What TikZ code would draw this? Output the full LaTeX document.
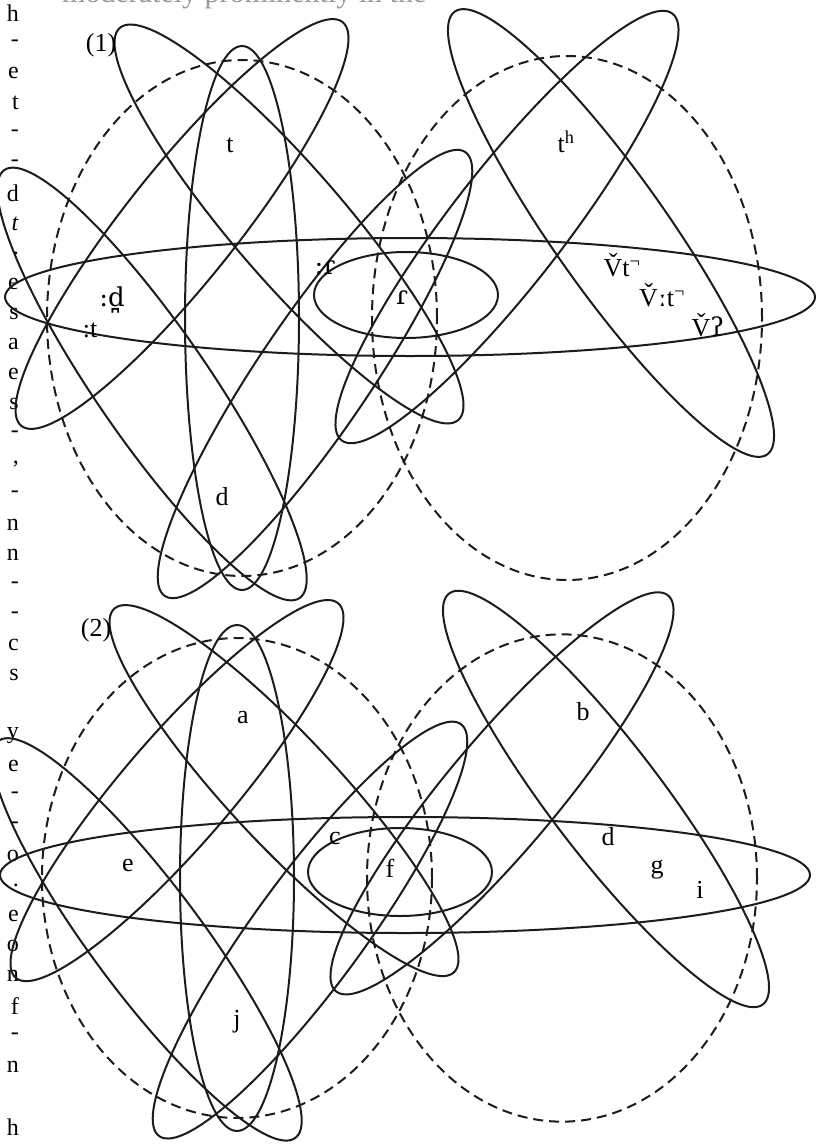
\documentclass[tikz,border=0pt]{standalone}
\usepackage{fontspec}
\setmainfont{Liberation Serif}
\newfontfamily\ipafont{DejaVu Serif}
\usetikzlibrary{positioning}
\definecolor{ink}{HTML}{1C1C1C}
\definecolor{faint}{HTML}{9A9A9A}
\definecolor{paper}{HTML}{FFFFFF}

\tikzset{
  loopline/.style={ink,line width=2pt},
  ringline/.style={ink,line width=2pt,dash pattern=on 10pt off 6pt},
  lab/.style={font=\fontsize{26}{30}\selectfont,inner sep=0pt},
  margintext/.style={font=\fontsize{24}{28}\selectfont,inner sep=0pt,anchor=east},
}

% 两个虚线圈和斜向、竖向的实线椭圆，两幅图共用
\newcommand{\ringpair}{%
  \draw[ringline] (242,318) ellipse [x radius=195pt,y radius=258pt];
  \draw[ringline] (567,318) ellipse [x radius=195pt,y radius=262pt];
  \draw[loopline] (242,318) ellipse [x radius=57pt,y radius=272pt];
  \draw[loopline,rotate around={-49.2:(289,224)}] (289,224) ellipse [x radius=259pt,y radius=56pt];
  \draw[loopline,rotate around={51.5:(182,224)}] (182,224) ellipse [x radius=258pt,y radius=56pt];
  \draw[loopline,rotate around={-55.4:(152,384)}] (152,384) ellipse [x radius=260pt,y radius=56pt];
  \draw[loopline,rotate around={55.9:(315,374)}] (315,374) ellipse [x radius=268pt,y radius=56pt];
  \draw[loopline,rotate around={-54.8:(611,233)}] (611,233) ellipse [x radius=271pt,y radius=57pt];
  \draw[loopline,rotate around={52.2:(507,227)}] (507,227) ellipse [x radius=270pt,y radius=57pt];
}

\begin{document}
\begin{tikzpicture}[x=1pt,y=-1pt]
\fill[paper] (0,0) rectangle (819,1148);
\useasboundingbox (0,0) rectangle (819,1148);

% 页顶被裁掉的一行，只露出字脚
\node[font=\fontsize{30}{34}\selectfont,faint,inner sep=0pt,anchor=base west] (topline) at (62,3)
  {moderately prominently in the};

% 左边一栏被裁掉的文字
\foreach \ch/\k in {h/0,-/1,e/2,t/3,-/4,-/5,d/6,\textit{t}/7,./8,e/9,s/10,a/11,e/12,s/13,-/14,{,}/15,-/16,n/17,n/18,-/19,-/20,c/21,s/22,y/24,e/25,-/26,-/27,o/28,./29,e/30,o/31,n/32,f/33,-/34,n/35,h/37}
  \node[margintext] (m\k) at (19,{13+30.1*\k}) {\ch};

% 图 (1)
\ringpair
\draw[loopline] (410,297) ellipse [x radius=405pt,y radius=59pt];
\draw[loopline] (406,295) ellipse [x radius=92pt,y radius=43pt];
\node[lab] (one) at (101,45) {(1)};
\node[lab] (t1) at (230,145) {t};
\node[lab] (d1) at (222,497) {d};
\node[lab] (th1) at (566,142) {t\textsuperscript{h}};
\node[lab] (dd1) at (112,300) {\ipafont :d̪};
\node[lab] (tt1) at (90,330) {:t};
\node[lab] (rr1) at (325,268) {\ipafont :ɾ};
\node[lab] (r1) at (402,298) {\ipafont ɾ};
\node[lab] (vt1) at (622,265) {\v{V}t\textsuperscript{¬}};
\node[lab] (vlt1) at (662,295) {\v{V}{\ipafont ː}t\textsuperscript{¬}};
\node[lab] (vq1) at (708,325) {\v{V}{\ipafont ʔ}};

% 图 (2)，下移并略压扁
\begin{scope}[shift={(-5,878)},yscale=0.93,shift={(0,-318)}]
\ringpair
\end{scope}
\draw[loopline] (405,875) ellipse [x radius=405pt,y radius=58pt];
\draw[loopline] (400,872) ellipse [x radius=92pt,y radius=44pt];
\node[lab] (two) at (96,630) {(2)};
\node[lab] (a2) at (243,718) {a};
\node[lab] (b2) at (583,712) {b};
\node[lab] (c2) at (335,838) {c};
\node[lab] (f2) at (390,868) {f};
\node[lab] (e2) at (128,865) {e};
\node[lab] (d2) at (608,837) {d};
\node[lab] (g2) at (657,870) {g};
\node[lab] (i2) at (700,890) {i};
\node[lab] (j2) at (237,1022) {j};
\end{tikzpicture}
\end{document}
